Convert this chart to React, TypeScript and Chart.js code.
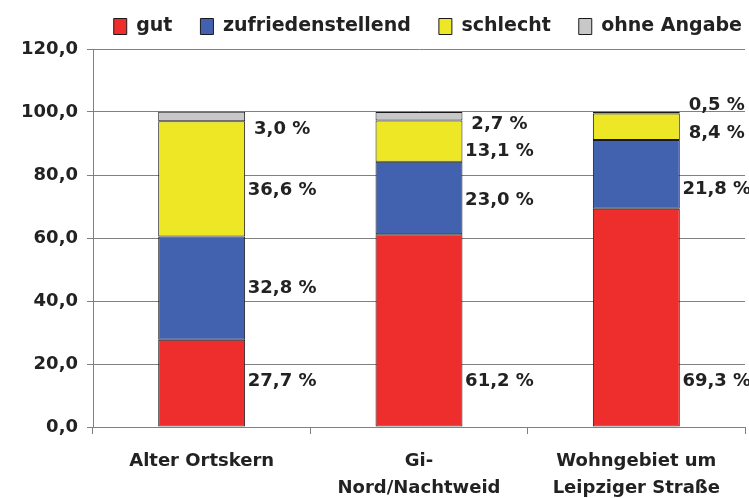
import React, { useEffect, useRef } from "react";
import { Chart, registerables } from "chart.js";

Chart.register(...registerables);

const categories: string[][] = [
  ["Alter Ortskern"],
  ["Gi-", "Nord/Nachtweid"],
  ["Wohngebiet um", "Leipziger Straße"],
];

const seriesNames = ["gut", "zufriedenstellend", "schlecht", "ohne Angabe"];
const gut = [27.7, 61.2, 69.3];
const zufriedenstellend = [32.8, 23.0, 21.8];
const schlecht = [36.6, 13.1, 8.4];
const ohneAngabe = [3.0, 2.7, 0.5];

// value-axis anchors at which each data label sits
const labelAnchorGut = [14.6, 14.6, 14.6];
const labelAnchorZuf = [44.1, 72.1, 75.6];
const labelAnchorSchl = [75.2, 87.6, 93.3];
const labelAnchorOhne = [94.6, 96.2, 102.2];

const yTicks = { min: 0, max: 120, step: 20 };

const colors = ["#EE2E2C", "#4262AF", "#EEE725", "#C8C8C8"];
const FONT = "'DejaVu Sans', Verdana, sans-serif";

const fmt = (v: number) => v.toFixed(1).replace(".", ",");

export default function App() {
  const ref = useRef<HTMLCanvasElement | null>(null);

  useEffect(() => {
    if (!ref.current) return;
    const values = [gut, zufriedenstellend, schlecht, ohneAngabe];
    const anchors = [labelAnchorGut, labelAnchorZuf, labelAnchorSchl, labelAnchorOhne];

    const labelPlugin = {
      id: "segLabels",
      beforeLayout(chart: any) {
        const lg = chart.legend;
        if (lg && !lg._patchedFit) {
          const orig = lg.fit;
          lg.fit = function (this: any) {
            orig.call(this);
            this.height = 49;
          };
          lg._patchedFit = true;
        }
      },
      afterLayout(chart: any) {
        const lg = chart.legend;
        if (lg) {
          lg.top -= 11;
          lg.bottom -= 11;
          lg.left += 25;
          lg.right += 25;
        }
      },
      afterDatasetsDraw(chart: any) {
        const ctx = chart.ctx;
        const yScale = chart.scales.y;
        ctx.save();
        ctx.font = `bold 18px ${FONT}`;
        ctx.fillStyle = "#222222";
        ctx.textAlign = "center";
        ctx.textBaseline = "middle";
        values.forEach((vals, i) => {
          const meta = chart.getDatasetMeta(i);
          meta.data.forEach((bar: any, j: number) => {
            const x = bar.x + bar.width / 2 + 37;
            const y = yScale.getPixelForValue(anchors[i][j]);
            ctx.fillText(fmt(vals[j]) + " %", x, y);
          });
        });
        ctx.restore();
      },
    };

    const chart = new Chart(ref.current, {
      type: "bar",
      data: {
        labels: categories,
        datasets: values.map((v, i) => ({
          label: seriesNames[i],
          data: v,
          backgroundColor: colors[i],
          borderColor: "#1a1a1a",
          borderWidth: 1,
          borderSkipped: false,
          barPercentage: 0.4,
          categoryPercentage: 1,
        })),
      },
      options: {
        responsive: false,
        animation: false,
        layout: { padding: { left: 0, right: 4, top: 0, bottom: 0 } },
        plugins: {
          tooltip: { enabled: false },
          legend: {
            position: "top",
            align: "end",
            labels: {
              boxWidth: 13,
              boxHeight: 16,
              padding: 28,
              color: "#222222",
              font: { family: FONT, size: 19, weight: "bold" },
            },
          },
        },
        scales: {
          x: {
            stacked: true,
            grid: {
              offset: true,
              drawOnChartArea: false,
              drawTicks: true,
              tickLength: 7,
              color: "#808080",
            },
            border: { display: true, color: "#808080" },
            ticks: {
              color: "#222222",
              padding: 14,
              maxRotation: 0,
              font: { family: FONT, size: 18, weight: "bold", lineHeight: 1.5 },
            },
            afterFit: (s: any) => {
              s.height = 71;
            },
          },
          y: {
            stacked: true,
            min: yTicks.min,
            max: yTicks.max,
            grid: { color: "#808080", tickLength: 6, drawTicks: true },
            border: { display: true, color: "#808080" },
            ticks: {
              stepSize: yTicks.step,
              padding: 9,
              color: "#222222",
              font: { family: FONT, size: 18, weight: "bold" },
              callback: (v: any) => fmt(Number(v)),
            },
            afterFit: (s: any) => {
              s.width = 93;
            },
          },
        },
      },
      plugins: [labelPlugin],
    } as any);
    return () => chart.destroy();
  }, []);

  return (
    <div style={{ position: "absolute", left: 0, top: 0, width: 749, height: 498, background: "#fff" }}>
      <canvas ref={ref} width={749} height={498} style={{ width: 749, height: 498 }} />
    </div>
  );
}
